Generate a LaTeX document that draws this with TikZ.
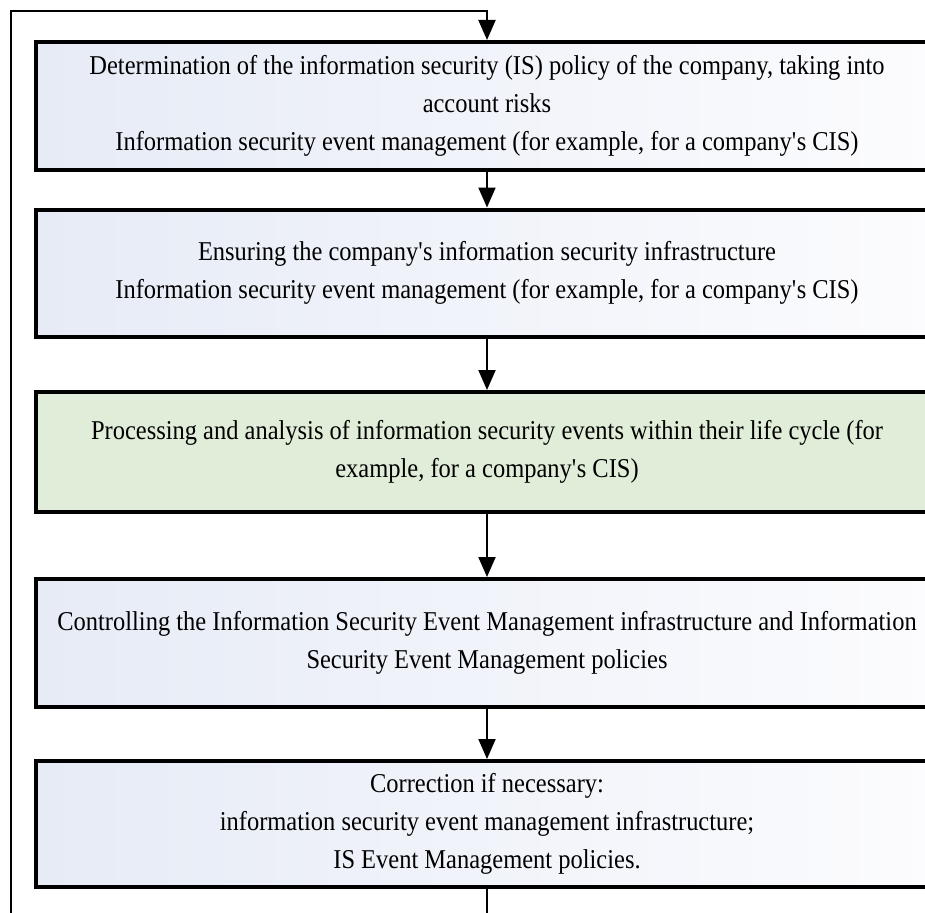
\documentclass[tikz,border=0pt]{standalone}
\usepackage{fontspec}
\setmainfont{Liberation Serif}[FakeStretch=0.9]
\usetikzlibrary{arrows.meta}
\definecolor{boxL}{RGB}{230,235,246}
\definecolor{boxR}{RGB}{252,252,254}
\definecolor{boxG}{RGB}{224,237,216}
\tikzset{
  stagebox/.style={draw=black, line width=4pt, inner sep=0pt, align=center,
    minimum width=902pt, font=\fontsize{27.2}{38}\selectfont},
  bluebox/.style={stagebox, left color=boxL, right color=boxR},
  greenbox/.style={stagebox, fill=boxG},
  flow/.style={line width=2pt, -{Triangle[length=20pt,width=17pt]}},
  plainline/.style={line width=2pt}
}
\begin{document}
\begin{tikzpicture}[x=1pt,y=-1pt]
\useasboundingbox (0,0) rectangle (925,912);
\begin{scope}
\clip (0,0) rectangle (925,912);
\fill[white] (0,0) rectangle (925,912);
\node[bluebox, minimum height=128pt] (b1) at (487,106)
  {Determination of the information security (IS) policy of the company, taking into\\
   account risks\\
   Information security event management (for example, for a company\textquotesingle s CIS)};
\node[bluebox, minimum height=127pt] (b2) at (487,273)
  {Ensuring the company\textquotesingle s information security infrastructure\\
   Information security event management (for example, for a company\textquotesingle s CIS)};
\node[greenbox, minimum height=120pt] (b3) at (487,452)
  {Processing and analysis of information security events within their life cycle (for\\
   example, for a company\textquotesingle s CIS)};
\node[bluebox, minimum height=128pt] (b4) at (487,643)
  {Controlling the Information Security Event Management infrastructure and Information\\
   Security Event Management policies};
\node[bluebox, minimum height=126pt] (b5) at (487,824)
  {Correction if necessary:\\
   information security event management infrastructure;\\
   IS Event Management policies.};
\coordinate (tl) at (11,11);
\coordinate (bl) at (11,940);
\coordinate (bc) at (487,940);
\draw[flow] (b1) -- (b2);
\draw[flow] (b2) -- (b3);
\draw[flow] (b3) -- (b4);
\draw[flow] (b4) -- (b5);
\draw[plainline] (b5.south) -- (bc);
\draw[flow] (bl) -- (tl) -| (b1.north);
\end{scope}
\end{tikzpicture}
\end{document}
